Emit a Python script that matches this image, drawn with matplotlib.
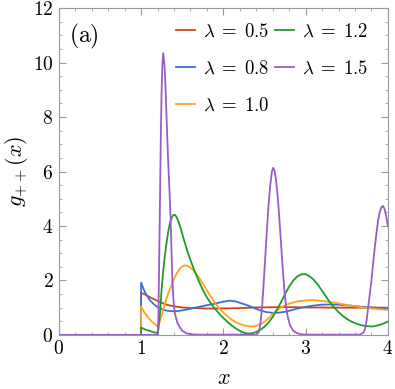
import numpy as np
import matplotlib.pyplot as plt
from matplotlib.ticker import MultipleLocator, FuncFormatter

plt.rcParams['mathtext.fontset'] = 'cm'
plt.rcParams['font.family'] = 'serif'
plt.rcParams['font.serif'] = ['DejaVu Serif']

# g_{++}(x), one curve per lambda
x05 = [0, 0.999, 1.0, 1.05, 1.1, 1.15, 1.2, 1.25, 1.3, 1.35, 1.4, 1.45, 1.5, 1.6, 1.7,
       1.8, 1.9, 2.0, 2.1, 2.25, 2.4, 2.55, 2.7, 2.85, 3.0, 3.25, 3.5, 3.75, 4.0]
g05 = [0, 0, 1.55, 1.48, 1.40, 1.32, 1.25, 1.18, 1.12, 1.08, 1.05, 1.03, 1.01, 0.99, 0.98,
       0.97, 0.97, 0.975, 0.98, 0.99, 1.01, 1.015, 1.02, 1.02, 1.01, 1.005, 1.0, 1.0, 1.0]

x08 = [0, 0.999, 1.0, 1.025, 1.05, 1.075, 1.1, 1.15, 1.2, 1.25, 1.3, 1.35, 1.4, 1.45, 1.5,
       1.6, 1.7, 1.8, 1.9, 2.0, 2.08, 2.15, 2.22, 2.3, 2.38, 2.45, 2.52, 2.6, 2.68, 2.75,
       2.83, 2.9, 3.0, 3.1, 3.2, 3.3, 3.4, 3.5, 3.6, 3.7, 3.85, 4.0]
g08 = [0, 0, 1.92, 1.72, 1.55, 1.42, 1.30, 1.14, 1.02, 0.95, 0.90, 0.875, 0.87, 0.88, 0.90,
       0.96, 1.03, 1.09, 1.15, 1.22, 1.26, 1.23, 1.16, 1.08, 0.98, 0.90, 0.84, 0.81, 0.82, 0.85,
       0.91, 0.97, 1.03, 1.08, 1.11, 1.12, 1.11, 1.09, 1.06, 1.03, 1.0, 0.98]

x10 = [0, 0.999, 1.0, 1.025, 1.05, 1.075, 1.1, 1.125, 1.15, 1.175, 1.2, 1.22, 1.25, 1.28,
       1.31, 1.35, 1.39, 1.43, 1.47, 1.5, 1.53, 1.56, 1.6, 1.65, 1.7, 1.75, 1.8, 1.85, 1.9,
       1.95, 2.0, 2.05, 2.1, 2.15, 2.2, 2.25, 2.3, 2.35, 2.4, 2.45, 2.5, 2.55, 2.6, 2.65,
       2.7, 2.75, 2.8, 2.9, 3.0, 3.08, 3.2, 3.3, 3.4, 3.5, 3.6, 3.7, 3.8, 3.9, 4.0]
g10 = [0, 0, 1.04, 0.90, 0.78, 0.68, 0.59, 0.51, 0.44, 0.37, 0.32, 0.42, 0.72, 1.05,
       1.35, 1.68, 1.98, 2.25, 2.43, 2.52, 2.55, 2.54, 2.47, 2.32, 2.12, 1.88, 1.63, 1.39, 1.17,
       0.97, 0.82, 0.68, 0.56, 0.47, 0.40, 0.35, 0.32, 0.31, 0.33, 0.39, 0.48, 0.62, 0.77, 0.90,
       1.01, 1.09, 1.15, 1.23, 1.27, 1.28, 1.25, 1.21, 1.16, 1.10, 1.05, 1.01, 0.97, 0.94, 0.92]

x12 = [0, 0.999, 1.0, 1.05, 1.1, 1.15, 1.2, 1.21, 1.23, 1.25, 1.27, 1.29, 1.31, 1.33, 1.35,
       1.37, 1.39, 1.41, 1.43, 1.46, 1.49, 1.52, 1.56, 1.6, 1.65, 1.7, 1.75, 1.8, 1.85, 1.9,
       1.95, 2.0, 2.05, 2.1, 2.15, 2.2, 2.25, 2.3, 2.35, 2.4, 2.45, 2.5, 2.55, 2.6, 2.65,
       2.7, 2.75, 2.8, 2.85, 2.9, 2.95, 3.0, 3.05, 3.1, 3.15, 3.2, 3.25, 3.3, 3.35, 3.4,
       3.45, 3.5, 3.55, 3.6, 3.65, 3.7, 3.75, 3.8, 3.85, 3.9, 3.95, 4.0]
g12 = [0, 0, 0.27, 0.20, 0.15, 0.10, 0.07, 0.20, 0.80, 1.70, 2.40, 2.95, 3.40, 3.80, 4.10,
       4.30, 4.40, 4.41, 4.33, 4.12, 3.82, 3.50, 3.10, 2.75, 2.35, 1.98, 1.66, 1.38, 1.15, 0.95,
       0.78, 0.62, 0.48, 0.35, 0.24, 0.15, 0.08, 0.05, 0.06, 0.11, 0.19, 0.30, 0.46, 0.66, 0.92,
       1.20, 1.50, 1.78, 2.00, 2.15, 2.23, 2.23, 2.15, 2.02, 1.84, 1.62, 1.40, 1.18, 1.00, 0.84,
       0.70, 0.59, 0.50, 0.43, 0.38, 0.34, 0.32, 0.31, 0.33, 0.37, 0.42, 0.49]

x15 = [0, 1.2, 1.21, 1.22, 1.228, 1.238, 1.248, 1.258, 1.268, 1.285, 1.30, 1.315, 1.33,
       1.345, 1.358, 1.37, 1.38, 1.395, 1.41, 1.44, 1.47, 1.5, 1.55, 1.62, 1.7,
       2.40, 2.43, 2.45, 2.47, 2.49, 2.51, 2.53, 2.55, 2.57, 2.59, 2.605, 2.62, 2.64, 2.66,
       2.68, 2.70, 2.72, 2.74, 2.76, 2.78, 2.81, 2.85, 2.9, 2.95, 3.05,
       3.66, 3.70, 3.72, 3.74, 3.76, 3.78, 3.80, 3.82, 3.84, 3.86, 3.88, 3.90, 3.92, 3.94,
       3.96, 3.98, 4.0]
g15 = [0, 0, 0.6, 2.8, 4.6, 7.0, 8.8, 9.9, 10.35, 9.9, 8.8, 7.5, 6.3,
       5.3, 4.3, 3.0, 2.0, 1.2, 0.8, 0.45, 0.28, 0.15, 0.06, 0.02, 0.01,
       0.01, 0.1, 0.4, 1.0, 1.9, 2.9, 3.9, 4.8, 5.5, 6.0, 6.14, 6.05, 5.7, 5.1,
       4.3, 3.4, 2.5, 1.7, 1.1, 0.7, 0.35, 0.15, 0.06, 0.02, 0.01,
       0.01, 0.08, 0.2, 0.5, 1.0, 1.5, 2.0, 2.6, 3.2, 3.7, 4.2, 4.5, 4.68, 4.74,
       4.62, 4.35, 4.0]

series = [(x05, g05, r'$\lambda\;=\;0.5$', '#CF4519'),
          (x08, g08, r'$\lambda\;=\;0.8$', '#3A6FD8'),
          (x10, g10, r'$\lambda\;=\;1.0$', '#FFA31F'),
          (x12, g12, r'$\lambda\;=\;1.2$', '#1F9A2D'),
          (x15, g15, r'$\lambda\;=\;1.5$', '#9A5CC9')]

fig = plt.figure(figsize=(3.95, 3.89), dpi=100)
ax = fig.add_axes([0.149, 0.139, 0.833, 0.840])

for xs, gs, lab, col in series:
    ax.plot(xs, gs, color=col, lw=1.3, label=lab, solid_joinstyle='round')

ax.set_xlim(0, 4)
ax.set_ylim(0, 12)
ax.xaxis.set_major_locator(MultipleLocator(1))
ax.xaxis.set_minor_locator(MultipleLocator(0.2))
ax.yaxis.set_major_locator(MultipleLocator(2))
ax.yaxis.set_minor_locator(MultipleLocator(0.5))
fmt = FuncFormatter(lambda v, p: f'${v:g}$')
ax.xaxis.set_major_formatter(fmt)
ax.yaxis.set_major_formatter(fmt)
ax.tick_params(which='both', direction='in', top=True, right=True, color='#999999',
               labelsize=14)
ax.tick_params(which='major', length=5, pad=4)
ax.tick_params(which='minor', length=2.5)
for s in ax.spines.values():
    s.set_color('#999999')
    s.set_linewidth(0.8)

ax.set_xlabel(r'$x$', fontsize=16, labelpad=6)
ax.set_ylabel(r'$g_{++}(x)$', fontsize=16, labelpad=2)
ax.text(0.03, 0.958, r'$\mathrm{(a)}$', transform=ax.transAxes, fontsize=17,
        ha='left', va='top')

ax.legend(ncol=2, loc='upper left', frameon=False, fontsize=13.5,
          handlelength=1.0, handletextpad=0.43, columnspacing=0.32,
          labelspacing=1.0, borderaxespad=0, borderpad=0,
          bbox_to_anchor=(0.356, 0.955))

fig.savefig('out.png', dpi=100)
